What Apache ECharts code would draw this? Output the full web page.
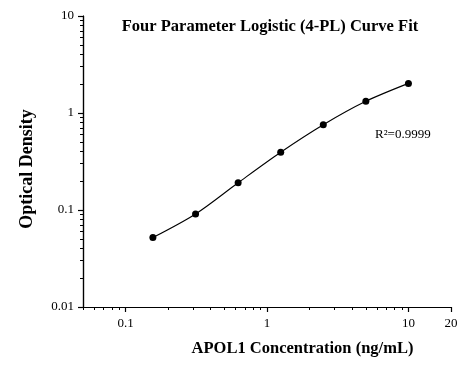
<!DOCTYPE html>
<html><head><meta charset="utf-8">
<script src="https://cdn.jsdelivr.net/npm/echarts@6/dist/echarts.min.js"></script>
<style>html,body{margin:0;padding:0;background:#fff}#c{width:465px;height:370px}</style>
</head><body><div id="c"></div>
<script>
const concentrations = [0.156, 0.3125, 0.625, 1.25, 2.5, 5, 10];
const opticalDensity = [0.052, 0.091, 0.191, 0.394, 0.757, 1.32, 2.02];
const xMajorTicks = [0.1, 1, 10, 20];
const xMinorTicks = [0.05, 0.06, 0.07, 0.08, 0.09, 0.2, 0.3, 0.4, 0.5, 0.6, 0.7, 0.8, 0.9, 2, 3, 4, 5, 6, 7, 8, 9];
const yMajorTicks = [0.01, 0.1, 1, 10];
const yMinorTicks = [0.02, 0.03, 0.04, 0.05, 0.06, 0.07, 0.08, 0.09, 0.2, 0.3, 0.4, 0.5, 0.6, 0.7, 0.8, 0.9, 2, 3, 4, 5, 6, 7, 8, 9];
const titleText = 'Four Parameter Logistic (4-PL) Curve Fit';
const xName = 'APOL1 Concentration (ng/mL)';
const yName = 'Optical Density';
const r2Text = 'R\u00b2=0.9999';

const serif = 'Liberation Serif';
const GRID = {left: 83, right: 14, top: 16, bottom: 63};
const W = 465, H = 370;
const plotW = W - GRID.left - GRID.right;
const plotH = H - GRID.top - GRID.bottom;
const fmt = v => String(+v.toPrecision(6));
const blank = () => '';
const chart = echarts.init(document.getElementById('c'));
chart.setOption({
  animation: false,
  backgroundColor: '#fff',
  grid: Object.assign({containLabel: false}, GRID),
  xAxis: [
    {
      type: 'log', min: 0.05, max: 20, position: 'bottom',
      splitLine: {show: false},
      axisLine: {show: true, lineStyle: {color: '#000', width: 1.2}},
      axisTick: {show: true, inside: false, length: 5, customValues: xMajorTicks, lineStyle: {color: '#000', width: 1.2}},
      axisLabel: {show: true, customValues: xMajorTicks, formatter: fmt, margin: 10,
        fontFamily: serif, fontSize: 13, color: '#000'}
    },
    {
      type: 'log', min: 0.05, max: 20, position: 'top', offset: -plotH,
      splitLine: {show: false},
      axisLine: {show: true, lineStyle: {color: '#000', width: 1.2}},
      axisTick: {show: true, inside: true, length: 3, customValues: xMinorTicks, lineStyle: {color: '#000', width: 1}},
      axisLabel: {show: true, formatter: blank}
    }
  ],
  yAxis: [
    {
      type: 'log', min: 0.01, max: 10, position: 'left',
      splitLine: {show: false},
      axisLine: {show: true, lineStyle: {color: '#000', width: 1.2}},
      axisTick: {show: true, inside: false, length: 5, customValues: yMajorTicks, lineStyle: {color: '#000', width: 1.2}},
      axisLabel: {show: true, customValues: yMajorTicks, formatter: fmt, margin: 9,
        fontFamily: serif, fontSize: 13, color: '#000'}
    },
    {
      type: 'log', min: 0.01, max: 10, position: 'right', offset: -plotW,
      splitLine: {show: false},
      axisLine: {show: true, lineStyle: {color: '#000', width: 1.2}},
      axisTick: {show: true, inside: true, length: 3, customValues: yMinorTicks, lineStyle: {color: '#000', width: 1}},
      axisLabel: {show: true, formatter: blank}
    }
  ],
  series: [{
    type: 'line',
    xAxisIndex: 0, yAxisIndex: 0,
    data: concentrations.map((x, i) => [x, opticalDensity[i]]),
    smooth: 0.3,
    symbol: 'circle', symbolSize: 7,
    showAllSymbol: true,
    lineStyle: {color: '#000', width: 1.1},
    itemStyle: {color: '#000'}
  }],
  graphic: [
    {type: 'text', x: 270, y: 27, style: {text: titleText, fontFamily: serif, fontWeight: 'bold', fontSize: 16.5,
      fill: '#000', textAlign: 'center', textVerticalAlign: 'middle'}},
    {type: 'text', x: 302.5, y: 349, style: {text: xName, fontFamily: serif, fontWeight: 'bold', fontSize: 16.5,
      fill: '#000', textAlign: 'center', textVerticalAlign: 'middle'}},
    {type: 'text', x: 27, y: 169, rotation: Math.PI / 2, style: {text: yName, fontFamily: serif, fontWeight: 'bold', fontSize: 18,
      fill: '#000', textAlign: 'center', textVerticalAlign: 'middle'}},
    {type: 'text', x: 375, y: 135, style: {text: r2Text, fontFamily: serif, fontSize: 13,
      fill: '#000', textAlign: 'left', textVerticalAlign: 'middle'}}
  ]
});
</script></body></html>
